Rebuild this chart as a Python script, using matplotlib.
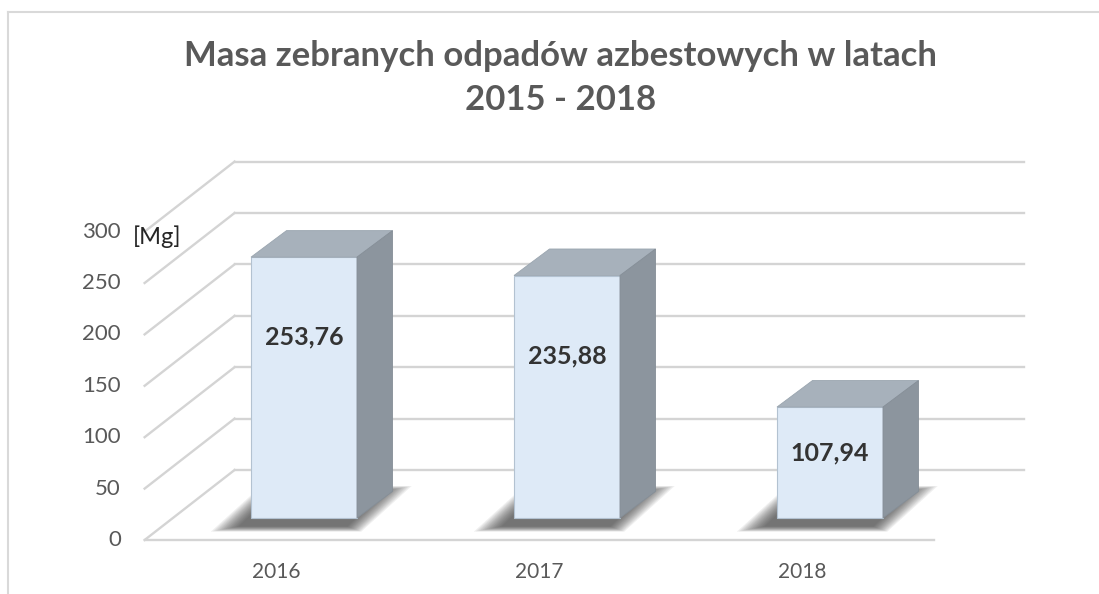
import matplotlib.pyplot as plt
from matplotlib.patches import Polygon
from matplotlib.lines import Line2D

years = ['2016', '2017', '2018']
values = [253.76, 235.88, 107.94]
value_labels = ['253,76', '235,88', '107,94']
ticks = [0, 50, 100, 150, 200, 250, 300]
title = 'Masa zebranych odpadów azbestowych w latach\n2015 - 2018'
unit = '[Mg]'

plt.rcParams['font.family'] = ['Lato', 'DejaVu Sans']

fig = plt.figure(figsize=(10.99, 5.94), dpi=100)
ax = fig.add_axes([0, 0, 1, 1])
# pixel mapping: one category = 263 px, one unit = 1.028 px, bar plane origin at (304, 518)
ax.set_xlim(-304 / 263, (1099 - 304) / 263)
ax.set_ylim((518 - 594) / 1.028, 518 / 1.028)
ax.axis('off')

w = 0.403           # bar width
ddx, ddy = 0.135, 25.8   # bar depth
bx, by = 0.236, 46.7     # back wall offset
fx, fy = -0.106, -21.4   # front floor offset
x_lo, x_hi = -0.5, 2.5
grid_c = '#d4d4d4'

for t in ticks:
    ax.plot([x_lo + bx, x_hi + bx], [t + by, t + by], color=grid_c, lw=1.7, zorder=1)
    ax.plot([x_lo + bx, x_lo + fx], [t + by, t + fy], color=grid_c, lw=1.7, zorder=1)
    ax.text(x_lo + fx - 0.09, t + fy, str(t), ha='right', va='center',
            fontsize=16, color='#595959')
ax.plot([x_lo + fx, x_hi + fx], [fy, fy], color=grid_c, lw=1.7, zorder=1)
ax.text(x_lo + fx - 0.045, ticks[-1] + fy - 5, unit, ha='left', va='center',
        fontsize=17, color='#262626')

for i, v in enumerate(values):
    x0, x1 = i - w / 2, i + w / 2
    # soft shadow on the floor
    foot = [(x0, 0), (x1, 0), (x1 + ddx, ddy), (x0 + ddx, ddy)]
    cx = i + ddx / 2 - 0.04
    cy = ddy / 2 - 4
    for k in range(14):
        s = 1.42 - k * 0.03
        pts = [(cx + (px - i - ddx / 2) * s, cy + (py - ddy / 2) * (s + 0.3)) for px, py in foot]
        ax.add_patch(Polygon(pts, closed=True, color='#2b2b2b', alpha=0.07, lw=0, zorder=2))
    ax.bar(i, v, width=w, color='#deeaf7', edgecolor='#b3c2d1', lw=0.8, zorder=3)
    top = [(x0, v), (x1, v), (x1 + ddx, v + ddy), (x0 + ddx, v + ddy)]
    side = [(x1, 0), (x1 + ddx, ddy), (x1 + ddx, v + ddy), (x1, v)]
    ax.add_patch(Polygon(top, closed=True, facecolor='#a7b1bb', edgecolor='#9aa5af', lw=0.6, zorder=3))
    ax.add_patch(Polygon(side, closed=True, facecolor='#8c959e', edgecolor='#858e97', lw=0.6, zorder=3))
    ax.text(i, max(v - 78, 0.585 * v), value_labels[i], ha='center', va='center',
            fontsize=18, fontweight='bold', color='#333333', zorder=4)
    ax.text(i + fx, fy - 31, years[i], ha='center', va='center', fontsize=15, color='#595959')

fig.text(561 / 1099, 1 - 78 / 594, title, ha='center', va='center', fontsize=25,
         fontweight='bold', color='#595959', linespacing=1.5)

frame_c = '#d9d9d9'
fig.add_artist(Line2D([8 / 1099, 1], [1 - 11.5 / 594] * 2, color=frame_c, lw=1.5))
fig.add_artist(Line2D([8 / 1099] * 2, [0, 1 - 11.5 / 594], color=frame_c, lw=1.5))

fig.savefig('out.png', dpi=100)
